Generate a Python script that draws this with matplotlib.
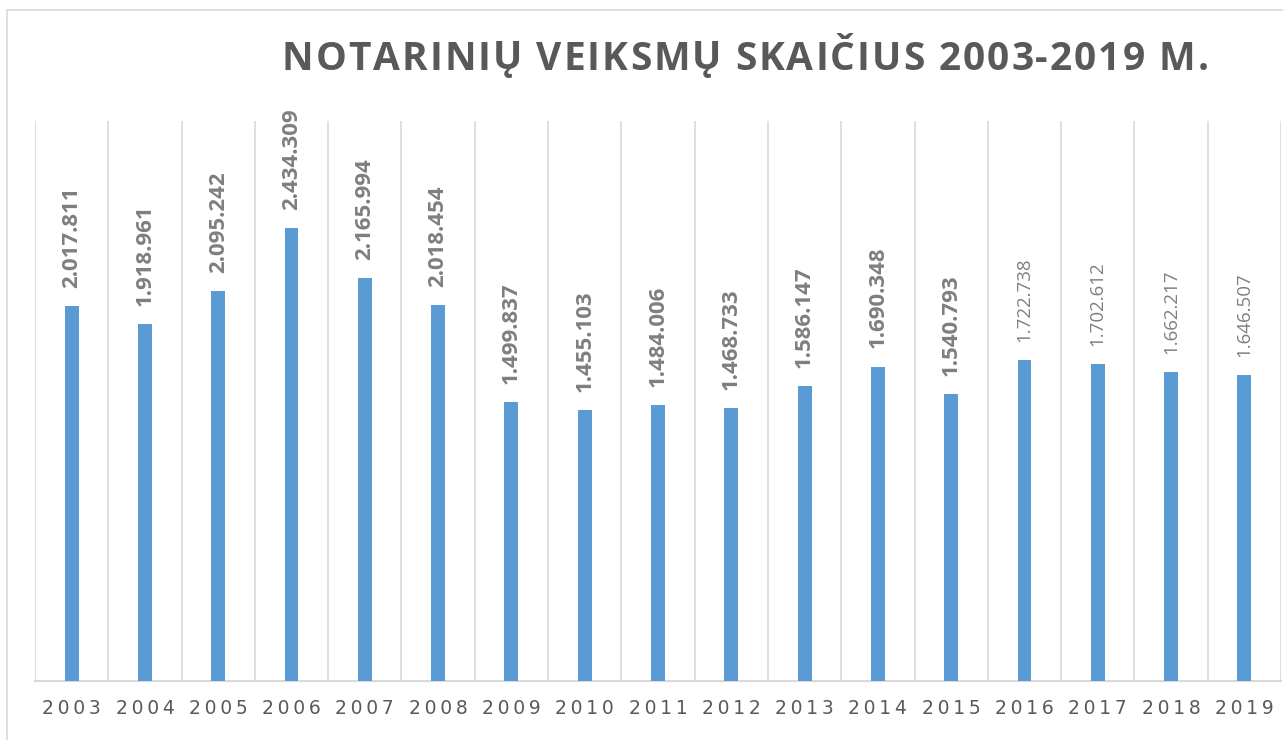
import matplotlib.pyplot as plt
import numpy as np
from matplotlib.patches import Rectangle

years = ['2003', '2004', '2005', '2006', '2007', '2008', '2009', '2010', '2011',
         '2012', '2013', '2014', '2015', '2016', '2017', '2018', '2019']
actions = [2017811, 1918961, 2095242, 2434309, 2165994, 2018454, 1499837, 1455103,
           1484006, 1468733, 1586147, 1690348, 1540793, 1722738, 1702612, 1662217, 1646507]
bold_labels = [True] * 13 + [False] * 4
title = 'NOTARINIŲ VEIKSMŲ SKAIČIUS 2003-2019 M.'

bar_color = '#5B9BD5'
grid_color = '#D9D9D9'

fig = plt.figure(figsize=(12.83, 7.40), dpi=100)
fig.patches.append(Rectangle((7 / 1283, -0.1), 1.2, 1.1 - 10 / 740,
                             transform=fig.transFigure, fill=False,
                             edgecolor=grid_color, linewidth=1.2))
ax = fig.add_axes([35 / 1283, 1 - 681 / 740, 1246 / 1283, 560 / 740])

x = np.arange(len(years))
ax.bar(x, actions, width=0.19, color=bar_color, zorder=3)

ax.set_xlim(-0.5, len(years) - 0.5)
ax.set_ylim(0, 3010000)

# vertical separators between categories
for b in np.arange(-0.5, len(years), 1):
    ax.axvline(b, color=grid_color, linewidth=1.2, zorder=1)

for s in ['top', 'right', 'left']:
    ax.spines[s].set_visible(False)
ax.spines['bottom'].set_color(grid_color)
ax.spines['bottom'].set_linewidth(1.5)
ax.set_yticks([])

spaced = ['\u2009'.join(y) for y in years]
ax.set_xticks(x)
ax.set_xticklabels(spaced, fontsize=13.5, color='#595959', family='DejaVu Sans')
ax.tick_params(axis='x', length=0, pad=13)

for xi, v, b in zip(x, actions, bold_labels):
    lbl = f'{v:,}'.replace(',', '.')
    ax.annotate(lbl, (xi, v), xytext=(0, 13), textcoords='offset points',
                rotation=90, ha='center', va='bottom', fontsize=16 if b else 13.5,
                fontweight='bold' if b else 'normal', color='#7F7F7F',
                family='Open Sans')

# title with letter spacing, laid out char by char
renderer = fig.canvas.get_renderer()
tkw = dict(fontsize=28, fontweight='bold', color='#595959', family='Open Sans',
           va='center', ha='left')
spacing = 2.0  # px between letters
widths = []
for ch in title:
    if ch == ' ':
        a = fig.text(0, 0, 'a a', **tkw).get_window_extent(renderer).width
        b2 = fig.text(0, 0, 'aa', **tkw).get_window_extent(renderer).width
        fig.texts.pop(); fig.texts.pop()
        widths.append(a - b2)
    else:
        t = fig.text(0, 0, ch, **tkw)
        widths.append(t.get_window_extent(renderer).width)
        fig.texts.pop()
total = sum(widths) + spacing * (len(title) - 1)
cx, cy = 745, 740 - 59
xpos = cx - total / 2
for ch, w in zip(title, widths):
    if ch != ' ':
        fig.text(xpos / 1283, cy / 740, ch, **tkw)
    xpos += w + spacing

fig.savefig('out.png', dpi=100)
